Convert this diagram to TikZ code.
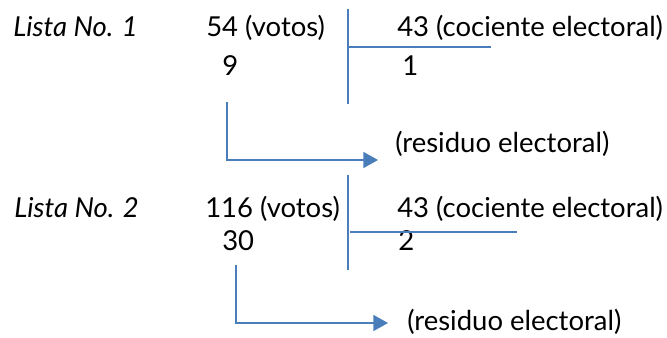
\documentclass[tikz,border=0pt]{standalone}
\usepackage{fontspec}
\setmainfont{Lato}
\usetikzlibrary{arrows.meta}
\definecolor{lineblue}{HTML}{4A7EBB}
\begin{document}
\begin{tikzpicture}[x=0.75pt,y=-0.75pt,
  txt/.style={anchor=base west,inner sep=0pt,font=\fontsize{20.6}{24}\selectfont},
  rule/.style={draw=lineblue,line width=1.3pt},
  arr/.style={draw=lineblue,line width=1.3pt,-{Triangle[length=11pt,width=12pt]}}]
\useasboundingbox (0,0) rectangle (667,338);
% Lista 1
\node[txt] (l1) at (13,37) {\itshape Lista No. 1};
\node[txt] (v1) at (206,37) {54 (votos)};
\node[txt] (c1) at (397,37) {43 (cociente electoral)};
\node[txt] (r1) at (222,76) {9};
\node[txt] (q1) at (402,76) {1};
\node[txt] (e1) at (395,153) {(residuo electoral)};
\coordinate (a1top) at (348,9);
\coordinate (a1bot) at (348,104);
\coordinate (h1a) at (348,47);
\coordinate (h1b) at (491,47);
\draw[rule] (a1top) -- (a1bot);
\draw[rule] (h1a) -- (h1b);
\coordinate (s1) at (227,102);
\coordinate (k1) at (227,160);
\coordinate (t1) at (378,160);
\draw[arr] (s1) -- (k1) -- (t1);
% Lista 2
\node[txt] (l2) at (14,218) {\itshape Lista No. 2};
\node[txt] (v2) at (205,218) {116 (votos)};
\node[txt] (c2) at (397,218) {43 (cociente electoral)};
\node[txt] (r2) at (222,251) {30};
\node[txt] (q2) at (398,251) {2};
\node[txt] (e2) at (407,330) {(residuo electoral)};
\coordinate (a2top) at (348,175);
\coordinate (a2bot) at (348,270);
\coordinate (h2a) at (350,232);
\coordinate (h2b) at (517,232);
\draw[rule] (a2top) -- (a2bot);
\draw[rule] (h2a) -- (h2b);
\coordinate (s2) at (236,265);
\coordinate (k2) at (236,323);
\coordinate (t2) at (388,323);
\draw[arr] (s2) -- (k2) -- (t2);
\end{tikzpicture}
\end{document}
